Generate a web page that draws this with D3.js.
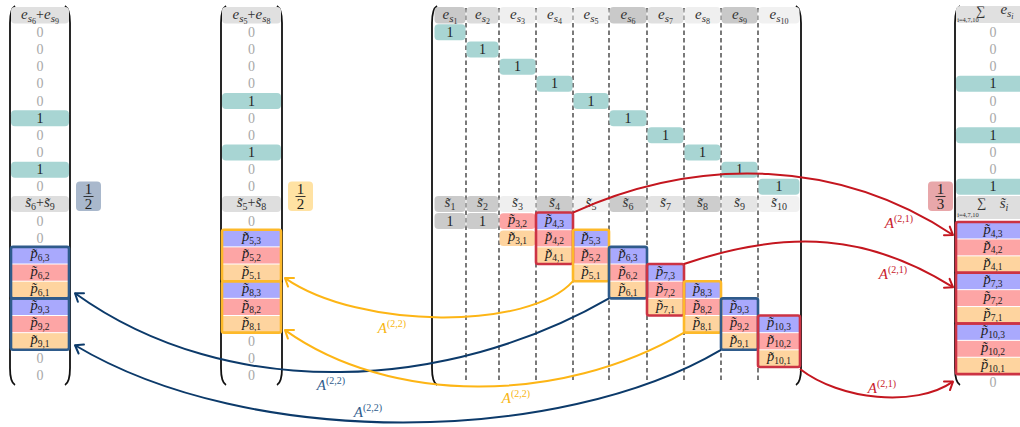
<!DOCTYPE html>
<html><head><meta charset="utf-8">
<script src="https://cdn.jsdelivr.net/npm/d3@7"></script>
<style>body{margin:0;background:#fff} svg{display:block}</style>
</head><body>
<svg id="c" width="1020" height="427"></svg>
<script>
// ---------------- data ----------------
const stages = [1,2,3,4,5,6,7,8,9,10];
const headerShade = ["#c9c9c9","#dcdcdc","#efefef","#eeeeee","#efefef","#c9c9c9","#e0e0e0","#efefef","#c9c9c9","#f1f1f1"];
const sShade      = ["#cbcbcb","#cbcbcb","#efefef","#cbcbcb","#f1f1f1","#cbcbcb","#e3e3e3","#cdcdcd","#e5e5e5","#f1f1f1"];
const seedStages = [1,2];                  // gray "1" cells under s̃1, s̃2
const pStages   = [3,4,5,6,7,8,9,10];
const pStartRow = [12,12,13,14,15,16,17,18];
const pCount    = [2,3,3,3,3,3,3,3];
const pGroup    = [null,"red","gold","navy","red","gold","navy","red"];

const vecLeftTop     = ["0","0","0","0","0","1","0","0","1","0"];
const vecLeftBottom  = ["0","0","p6,3","p6,2","p6,1","p9,3","p9,2","p9,1","0","0"];
const vecLeftBlocks  = [6,9];
const vecMidTop      = ["0","0","0","0","1","0","0","1","0","0"];
const vecMidBottom   = ["0","p5,3","p5,2","p5,1","p8,3","p8,2","p8,1","0","0","0"];
const vecMidBlocks   = [5,8];
const vecRightTop    = ["0","0","0","1","0","0","1","0","0","1"];
const vecRightBottom = ["p4,3","p4,2","p4,1","p7,3","p7,2","p7,1","p10,3","p10,2","p10,1","0"];
const vecRightBlocks = [4,7,10];
const fractionNum = ["1","1","1"];
const fractionDen = ["2","2","3"];
const arrowLabels = ["(2,2)","(2,2)","(2,2)","(2,2)","(2,1)","(2,1)","(2,1)"];

// ---------------- styles ----------------
const FONT = "Liberation Serif, DejaVu Serif, serif";
const TEAL = "#a8d5d3";
const pFill = {3:"#a9a9fd", 2:"#fda5a5", 1:"#fed49f"};
const border = {navy:"#2f5b8b", gold:"#fdb92a", red:"#cc3344"};
const arrowCol = {navy:"#0c3a6a", gold:"#fdb515", red:"#c4161f"};
const labelCol = {navy:"#2d5b8c", gold:"#f7b512", red:"#c8202c"};
const fracFill = {navy:"#a9b8cc", gold:"#ffe2a3", red:"#e8a7aa"};

const svg = d3.select("#c");
const gLines = svg.append("g"), gCells = svg.append("g"), gText = svg.append("g"), gArr = svg.append("g");

// scales
const yRow = d3.scaleLinear().domain([0,21]).range([15.2, 15.2 + 21*17.16]);
const yRowR = d3.scaleLinear().domain([12,21]).range([230.5, 230.5 + 9*16.9]);
const xMid = d3.scaleLinear().domain(d3.range(11)).range([434,466,499,536,573,609,647,684,721,758,800]);
const H = 17.16;

function mtext(g, x, y, parts, fill) {
  const t = g.append("text").attr("x", x).attr("y", y).attr("text-anchor","middle")
    .attr("font-family", FONT).attr("fill", fill || "#222");
  let cur = 0;
  parts.forEach(p => {
    const d = (p.dy||0) - cur; cur = p.dy||0;
    t.append("tspan").attr("dy", d).attr("font-size", p.s||13)
      .attr("font-style", p.i ? "italic" : "normal").text(p.t);
  });
  return t;
}
const P = (i,j) => [{t:"p\u0303",i:true,s:14.5},{t:`${i},${j}`,s:9.5,dy:3}];
const E = k => [{t:"e",i:true,s:15},{t:"s",i:true,s:11,dy:3},{t:String(k),s:8,dy:5}];
const S = k => [{t:"s\u0303",i:true,s:15},{t:String(k),s:10,dy:3}];
const PLUS = [{t:"+",s:14,dy:0}];

function cell(x0,x1,yc,h,fill,r){
  gCells.append("rect").attr("x",x0).attr("y",yc-h/2).attr("width",x1-x0).attr("height",h)
    .attr("rx",r==null?4:r).attr("fill",fill);
}
function paren(x, top, bot, dir){ // dir +1 left paren, -1 right paren
  const w = 5*dir, p = d3.path();
  p.moveTo(x+w, top); p.quadraticCurveTo(x, top+3, x, top+17);
  p.lineTo(x, bot-17); p.quadraticCurveTo(x, bot-3, x+w, bot);
  gLines.append("path").attr("d",p.toString()).attr("fill","none").attr("stroke","#111").attr("stroke-width",1.8);
}
function ptoken(g, x, y, tok){
  const [i,j] = tok.slice(1).split(",");
  mtext(g, x, y+3, P(i,j));
}

// ---------------- middle matrix ----------------
stages.forEach(k => {
  if (k < 10) gLines.append("line").attr("x1",xMid(k)).attr("x2",xMid(k)).attr("y1",8).attr("y2",382)
     .attr("stroke","#222").attr("stroke-width",1.2).attr("stroke-dasharray","4.5,3");
});
paren(432, 6, 385, 1); paren(801, 6, 385, -1);
stages.forEach((k,idx) => {
  const x0 = xMid(k-1)+0.5, x1 = xMid(k)-0.5, xc = (x0+x1)/2;
  cell(x0, x1, yRow(0), 16.5, headerShade[idx]);
  mtext(gText, xc, yRow(0)+3.5, E(k), "#333");
  cell(x0, x1, yRow(k), 16, TEAL);
  mtext(gText, xc, yRow(k)+4.5, [{t:"1",s:14}]);
  cell(x0, x1, yRow(11), 16, sShade[idx]);
  mtext(gText, xc, yRow(11)+3.5, S(k), "#333");
});
seedStages.forEach(k => {
  const x0 = xMid(k-1)+0.5, x1 = xMid(k)-0.5;
  cell(x0, x1, yRow(12), 16, "#cbcbcb");
  mtext(gText, (x0+x1)/2, yRow(12)+4.5, [{t:"1",s:14}]);
});
pStages.forEach((k,idx) => {
  const x0 = xMid(k-1)+0.5, x1 = xMid(k)-0.5, xc = (x0+x1)/2;
  const n = pCount[idx];
  for (let m=0; m<n; m++){
    const j = n - m, r = pStartRow[idx] + m;
    if (pGroup[idx]) cell(x0, x1, yRow(r), H-1, pFill[j], 0);
    else cell(x0, x1, yRow(r), H-1.5, pFill[j], 4);
    mtext(gText, xc, yRow(r)+3, P(k,j));
  }
  if (pGroup[idx]) {
    const yt = yRow(pStartRow[idx]) - H/2, yb = yRow(pStartRow[idx]+n-1) + H/2;
    gText.append("rect").attr("x",xMid(k-1)).attr("y",yt).attr("width",xMid(k)-xMid(k-1)).attr("height",yb-yt)
      .attr("rx",2).attr("fill","none").attr("stroke",border[pGroup[idx]]).attr("stroke-width",2.6);
  }
});

// ---------------- vectors ----------------
function drawVector(x0, x1, topVals, header, sLabel, bottomVals, blocks, group, yB, tall){
  const xc = (x0+x1)/2;
  paren(x0-1, 6, 385, 1); paren(x1+1, 6, 385, -1);
  cell(x0, x1, tall ? 14.5 : yRow(0), tall ? 17 : 16.5, "#e0e0e0");
  header();
  topVals.forEach((v,i) => {
    const r = i+1;
    if (v === "1") cell(x0, x1, yRow(r), 16, TEAL);
    mtext(gText, xc, yRow(r)+4.5, [{t:v,s:14}], v==="1" ? "#222" : "#a8a8a8");
  });
  cell(x0, x1, tall ? 207.5 : yRow(11), tall ? 23 : 16, "#dedede");
  sLabel();
  bottomVals.forEach((v,i) => {
    const r = i+12;
    if (v[0] === "p") {
      const j = +v.split(",")[1];
      cell(x0, x1, yB(r), (tall?16.9:H)-1, pFill[j], 0);
      ptoken(gText, xc, yB(r), v);
    } else mtext(gText, xc, yB(r)+4.5, [{t:v,s:14}], "#a8a8a8");
  });
  blocks.forEach(b => {
    const i0 = bottomVals.indexOf("p"+b+",3");
    const ph = tall ? 16.9 : H;
    const yt = yB(i0+12) - ph/2, yb = yB(i0+14) + ph/2;
    gText.append("rect").attr("x",x0).attr("y",yt).attr("width",x1-x0).attr("height",yb-yt)
      .attr("rx",2).attr("fill","none").attr("stroke",border[group]).attr("stroke-width",2.6);
  });
}
drawVector(11, 69, vecLeftTop,
  () => mtext(gText, 40, yRow(0)+3.5, [...E(6), ...PLUS, ...E(9)], "#333"),
  () => mtext(gText, 40, yRow(11)+3.5, [...S(6), ...PLUS, ...S(9)], "#333"),
  vecLeftBottom, vecLeftBlocks, "navy", yRow, false);
drawVector(222, 281, vecMidTop,
  () => mtext(gText, 251.5, yRow(0)+3.5, [...E(5), ...PLUS, ...E(8)], "#333"),
  () => mtext(gText, 251.5, yRow(11)+3.5, [...S(5), ...PLUS, ...S(8)], "#333"),
  vecMidBottom, vecMidBlocks, "gold", yRow, false);
drawVector(956, 1030, vecRightTop,
  () => {
    mtext(gText, 981, 15, [{t:"\u2211",s:13}], "#333");
    mtext(gText, 968, 21.5, [{t:"i=4,7,10",s:6.5,i:false}], "#333");
    mtext(gText, 1007, 14, [{t:"e",i:true,s:15},{t:"s",i:true,s:11,dy:3},{t:"i",i:true,s:8,dy:5}], "#333");
  },
  () => {
    mtext(gText, 982, 207, [{t:"\u2211",s:13}], "#333");
    mtext(gText, 968, 216.5, [{t:"i=4,7,10",s:6.5}], "#333");
    mtext(gText, 1004, 208, [{t:"s\u0303",i:true,s:15},{t:"i",i:true,s:10,dy:3}], "#333");
  },
  vecRightBottom, vecRightBlocks, "red", r => r >= 12 ? yRowR(r) : yRow(r), true);

// ---------------- fractions ----------------
const fracX = [76, 288, 928], fracGroup = ["navy","gold","red"];
fractionNum.forEach((n,i) => {
  const x = fracX[i], w = 25;
  gCells.append("rect").attr("x",x).attr("y",181.5).attr("width",w).attr("height",29.5).attr("rx",4).attr("fill",fracFill[fracGroup[i]]);
  mtext(gText, x+w/2, 194, [{t:n,s:15}]);
  gText.append("line").attr("x1",x+w/2-5).attr("x2",x+w/2+5).attr("y1",196.5).attr("y2",196.5).attr("stroke","#222").attr("stroke-width",0.9);
  mtext(gText, x+w/2, 208.5, [{t:fractionDen[i],s:15}]);
});

// ---------------- arrows ----------------
const arrows = [
  {g:"gold", p0:[xMid(4), yRow(15)+H/2], c1:[530,330], c2:[360,330], p1:[285, yRow(15)+5.5], lab:[392,333]},
  {g:"navy", p0:[xMid(5), yRow(16)+H/2], c1:[450,390], c2:[230,405], p1:[75, yRow(16)+3.5], lab:[331,390]},
  {g:"gold", p0:[xMid(7), yRow(18)+H/2], c1:[560,405], c2:[390,405], p1:[285, yRow(18)+6], lab:[516,403]},
  {g:"navy", p0:[xMid(8), yRow(19)+H/2], c1:[560,445], c2:[250,450], p1:[75, yRow(19)+4], lab:[368,417]},
  {g:"red",  p0:[xMid(4), yRow(12)-H/2], c1:[700,155], c2:[840,160], p1:[953, yRowR(12)+4.5], lab:[899,228]},
  {g:"red",  p0:[xMid(7), yRow(15)-H/2], c1:[790,228], c2:[870,235], p1:[953, yRowR(15)+6], lab:[893,279]},
  {g:"red",  p0:[xMid(10), yRow(20)+H/2+2], c1:[840,400], c2:[915,408], p1:[953, yRowR(21)-1], lab:[882,393]}
];
arrows.forEach((a,i) => {
  const p = d3.path(); p.moveTo(...a.p0); p.bezierCurveTo(...a.c1, ...a.c2, ...a.p1);
  gArr.append("path").attr("d",p.toString()).attr("fill","none").attr("stroke",arrowCol[a.g]).attr("stroke-width",2);
  const ang = Math.atan2(a.p1[1]-a.c2[1], a.p1[0]-a.c2[0]), L = 9, s = 0.62;
  const h = d3.path();
  h.moveTo(a.p1[0]-L*Math.cos(ang-s), a.p1[1]-L*Math.sin(ang-s)); h.lineTo(...a.p1);
  h.lineTo(a.p1[0]-L*Math.cos(ang+s), a.p1[1]-L*Math.sin(ang+s));
  gArr.append("path").attr("d",h.toString()).attr("fill","none").attr("stroke",arrowCol[a.g])
    .attr("stroke-width",2).attr("stroke-linecap","round").attr("stroke-linejoin","round");
  mtext(gArr, a.lab[0], a.lab[1], [{t:"A",i:true,s:15},{t:arrowLabels[i],s:10,dy:-6}], labelCol[a.g]);
});
</script>
</body></html>
